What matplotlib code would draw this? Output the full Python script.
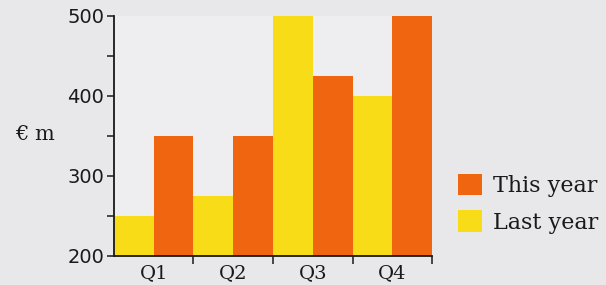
import matplotlib
matplotlib.use("Agg")
import matplotlib.pyplot as plt
from matplotlib.patches import Patch
from matplotlib.ticker import FixedLocator

quarters = ["Q1", "Q2", "Q3", "Q4"]
last_year = [250, 275, 500, 400]
this_year = [350, 350, 425, 500]
y_ticks = [200, 300, 400, 500]
y_minor = [250, 350, 450]

orange = "#f0650f"
yellow = "#f8dc17"
bg = "#e8e7ea"

fig = plt.figure(figsize=(6.06, 2.85), dpi=100, facecolor=bg)
ax = fig.add_axes([0.188, 0.102, 0.525, 0.842])
ax.set_facecolor("#eeedf0")

n = len(quarters)
x_last = [2 * i for i in range(n)]
x_this = [2 * i + 1 for i in range(n)]
ax.bar(x_last, last_year, width=1.0, color=yellow, zorder=2)
ax.bar(x_this, this_year, width=1.0, color=orange, zorder=2)

ax.set_xlim(-0.5, 2 * n - 0.5)
ax.set_ylim(200, 500)

for s in ["top", "right"]:
    ax.spines[s].set_visible(False)
for s in ["left", "bottom"]:
    ax.spines[s].set_color("#1a1a1a")
    ax.spines[s].set_linewidth(1.3)

ax.set_yticks(y_ticks)
ax.set_yticklabels([str(v) for v in y_ticks], fontsize=14, family="DejaVu Sans",
                   color="#1a1a1a")
ax.yaxis.set_minor_locator(FixedLocator(y_minor))
ax.tick_params(axis="y", which="both", direction="out", length=5, width=1.1,
               color="#1a1a1a", pad=2)

ax.set_xticks([2 * i + 0.5 for i in range(n)])
ax.set_xticklabels(quarters, fontsize=14, family="DejaVu Serif", color="#1a1a1a")
ax.xaxis.set_minor_locator(FixedLocator([2 * i + 1.5 for i in range(n)]))
ax.tick_params(axis="x", which="major", length=0, pad=6)
ax.tick_params(axis="x", which="minor", direction="out", length=6, width=1.1,
               color="#1a1a1a")

fig.text(0.025, 0.527, "€ m", fontsize=15, family="DejaVu Serif", color="#1a1a1a",
         va="center", ha="left")

handles = [Patch(facecolor=orange, edgecolor="none", label="This year"),
           Patch(facecolor=yellow, edgecolor="none", label="Last year")]
leg = fig.legend(handles=handles, loc="upper left", bbox_to_anchor=(0.722, 0.46),
                 frameon=False, handlelength=1.1, handleheight=1.1,
                 handletextpad=0.5, labelspacing=0.6,
                 prop={"family": "DejaVu Serif", "size": 16})
for t in leg.get_texts():
    t.set_color("#1a1a1a")

fig.savefig("out.png", dpi=100, facecolor=bg)
